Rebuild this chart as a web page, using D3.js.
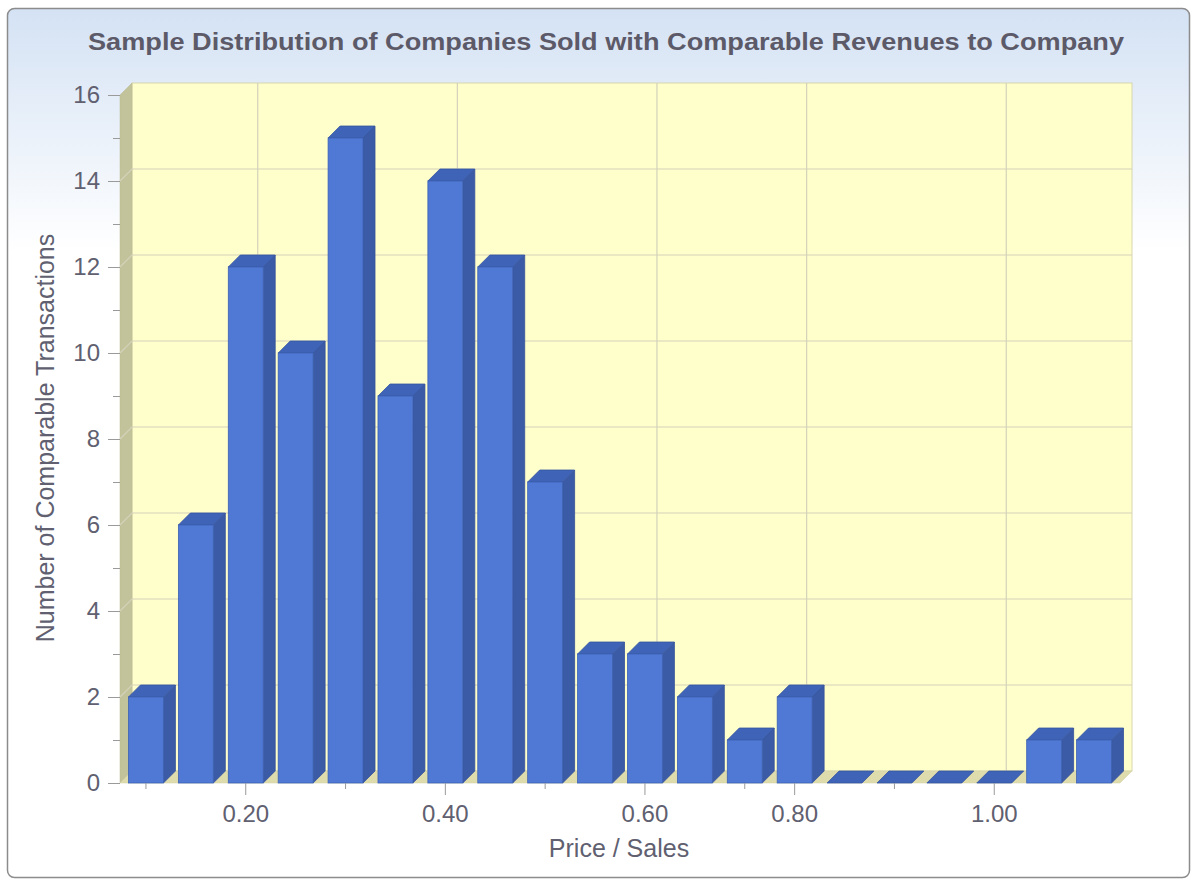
<!DOCTYPE html>
<html>
<head>
<meta charset="utf-8">
<script src="https://cdn.jsdelivr.net/npm/d3@7"></script>
<style>
  body { margin: 0; background: #fff; }
  svg { display: block; }
  .tick text { font-family: "Liberation Sans", Arial, sans-serif; font-size: 24px; fill: #606070; }
  .tick line { stroke: #9a9a9a; }
</style>
</head>
<body>
<svg></svg>
<script>
// price / sales bins (category labels as shown on the axis)
var bins = ["0.10", "0.15", "0.20", "0.25", "0.30", "0.35", "0.40", "0.45", "0.50", "0.55",
            "0.60", "0.65", "0.70", "0.80", "0.85", "0.90", "0.95", "1.00", "1.05", "1.10"];
var counts = [2, 6, 12, 10, 15, 9, 14, 12, 7, 3, 3, 2, 1, 2, 0, 0, 0, 0, 1, 1];
var majorTicks = ["0.20", "0.40", "0.60", "0.80", "1.00"];
var minorTicks = ["0.10", "0.30", "0.50", "0.70", "0.90"];
var yMajor = [0, 2, 4, 6, 8, 10, 12, 14, 16];
var yMinor = [1, 3, 5, 7, 9, 11, 13, 15];

var width = 1193;
var height = 880;
var depth = 12;   // 3d offset of the back wall

var svg = d3.select("svg")
    .attr("width", width)
    .attr("height", height);

var defs = svg.append("defs");
var grad = defs.append("linearGradient")
    .attr("id", "bg")
    .attr("x1", 0).attr("y1", 0).attr("x2", 0).attr("y2", 1);
grad.append("stop").attr("offset", "0%").attr("stop-color", "#d4e2f4");
grad.append("stop").attr("offset", "28%").attr("stop-color", "#ffffff");
grad.append("stop").attr("offset", "100%").attr("stop-color", "#ffffff");

svg.append("rect")
    .attr("x", 7.5).attr("y", 8.5)
    .attr("width", 1182).attr("height", 869)
    .attr("rx", 7)
    .attr("fill", "url(#bg)")
    .attr("stroke", "#8c8c8c")
    .attr("stroke-width", 1.5);

svg.append("text")
    .attr("x", 606)
    .attr("y", 50)
    .attr("text-anchor", "middle")
    .attr("textLength", 1036)
    .attr("lengthAdjust", "spacingAndGlyphs")
    .style("font-family", "'Liberation Sans', Arial, sans-serif")
    .style("font-weight", "bold")
    .style("font-size", "23px")
    .style("fill", "#5c5a68")
    .text("Sample Distribution of Companies Sold with Comparable Revenues to Company");

var x = d3.scaleBand()
    .domain(bins)
    .range([120, 1120])
    .paddingInner(0.3)
    .paddingOuter(0.17);

var y = d3.scaleLinear()
    .domain([0, 16])
    .range([783, 95]);

var x0 = x.range()[0], x1 = x.range()[1];
var yb = y(0), yt = y(16);

function pts(a) { return a.map(p => p.join(",")).join(" "); }

// walls
var walls = svg.append("g");
walls.append("rect")
    .attr("x", x0 + depth).attr("y", yt - depth)
    .attr("width", x1 - x0).attr("height", yb - yt)
    .attr("fill", "#ffffcc")
    .attr("stroke", "#d6d6ae");
walls.append("polygon")
    .attr("points", pts([[x0, yt], [x0 + depth, yt - depth], [x0 + depth, yb - depth], [x0, yb]]))
    .attr("fill", "#c3c39b")
    .attr("stroke", "#b8b890")
    .attr("stroke-width", 0.5);
walls.append("polygon")
    .attr("points", pts([[x0, yb], [x0 + depth, yb - depth], [x1 + depth, yb - depth], [x1, yb]]))
    .attr("fill", "#dedcad")
    .attr("stroke", "#d0cfa0")
    .attr("stroke-width", 0.5);

// grid
var grid = svg.append("g").attr("stroke", "#d3d2ba").attr("stroke-width", 1.2);
grid.selectAll(".hgrid")
    .data(yMajor.filter(d => d > 0 && d < 16))
    .enter()
    .append("polyline")
      .attr("fill", "none")
      .attr("points", d => pts([[x0, y(d)], [x0 + depth, y(d) - depth], [x1 + depth, y(d) - depth]]));
grid.selectAll(".vgrid")
    .data(majorTicks)
    .enter()
    .append("line")
      .attr("x1", d => x(d) + x.bandwidth() / 2 + depth)
      .attr("x2", d => x(d) + x.bandwidth() / 2 + depth)
      .attr("y1", yt - depth)
      .attr("y2", yb - depth);

// bars
var bw = x.bandwidth();
var bars = svg.append("g")
    .selectAll("g")
    .data(bins.map((b, i) => ({ bin: b, count: counts[i] })))
    .enter()
    .append("g");

bars.filter(d => d.count > 0)
    .append("polygon")
      .attr("points", d => {
        var l = x(d.bin) + bw, t = y(d.count);
        return pts([[l, t], [l + depth, t - depth], [l + depth, yb - depth], [l, yb]]);
      })
      .attr("fill", "#3b5ba6")
      .attr("stroke", "#35529a")
      .attr("stroke-width", 0.8);

bars.append("polygon")
    .attr("points", d => {
      var l = x(d.bin), t = y(d.count);
      return pts([[l, t], [l + depth, t - depth], [l + bw + depth, t - depth], [l + bw, t]]);
    })
    .attr("fill", "#3f63b6")
    .attr("stroke", "#36559f")
    .attr("stroke-width", 0.8);

bars.filter(d => d.count > 0)
    .append("rect")
      .attr("x", d => x(d.bin))
      .attr("y", d => y(d.count))
      .attr("width", bw)
      .attr("height", d => yb - y(d.count))
      .attr("fill", "#4f79d5")
      .attr("stroke", "#3e61b2")
      .attr("stroke-width", 0.8);

// axes
var yAxis = svg.append("g")
    .attr("transform", "translate(" + x0 + ",0)")
    .call(d3.axisLeft(y).tickValues(yMajor).tickSize(12).tickPadding(8).tickFormat(d3.format("d")));
yAxis.select(".domain").remove();

var yMinorAxis = svg.append("g")
    .attr("transform", "translate(" + x0 + ",0)")
    .call(d3.axisLeft(y).tickValues(yMinor).tickSize(7).tickFormat(""));
yMinorAxis.select(".domain").remove();

var xAxis = svg.append("g")
    .attr("transform", "translate(0," + yb + ")")
    .call(d3.axisBottom(x).tickValues(majorTicks).tickSize(12).tickPadding(10));
xAxis.select(".domain").remove();

var xMinorAxis = svg.append("g")
    .attr("transform", "translate(0," + yb + ")")
    .call(d3.axisBottom(x).tickValues(minorTicks).tickSize(6).tickFormat(""));
xMinorAxis.select(".domain").remove();

svg.selectAll(".tick line").attr("stroke", "#9a9a9a");

// axis titles
svg.append("text")
    .attr("x", 619)
    .attr("y", 857)
    .attr("text-anchor", "middle")
    .style("font-family", "'Liberation Sans', Arial, sans-serif")
    .style("font-size", "25px")
    .style("fill", "#606070")
    .text("Price / Sales");

svg.append("text")
    .attr("transform", "translate(54,438) rotate(-90)")
    .attr("text-anchor", "middle")
    .style("font-family", "'Liberation Sans', Arial, sans-serif")
    .style("font-size", "25px")
    .style("fill", "#606070")
    .text("Number of Comparable Transactions");
</script>
</body>
</html>
